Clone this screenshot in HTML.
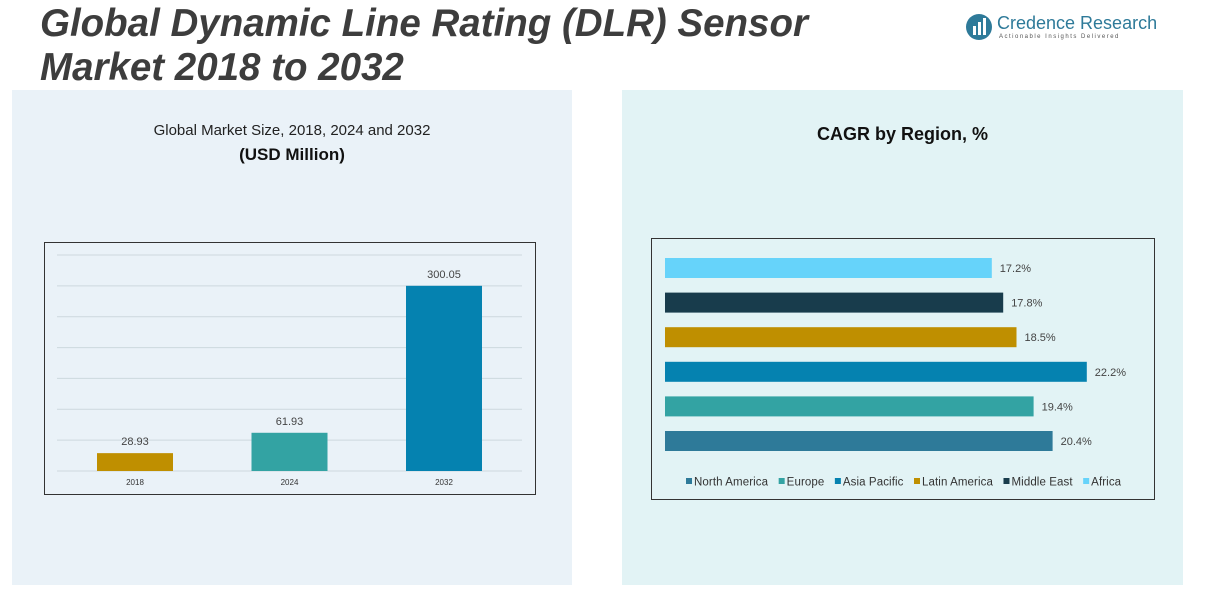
<!DOCTYPE html>
<html><head><meta charset="utf-8"><style>
body{margin:0;width:1207px;height:606px;background:#fff;font-family:"Liberation Sans",sans-serif;position:relative;overflow:hidden}
.abs{position:absolute}
</style></head><body>
<div class="abs" style="left:12px;top:90px;width:560px;height:495px;background:#eaf2f8"></div>
<div class="abs" style="left:622px;top:90px;width:561px;height:495px;background:#e2f3f5"></div>
<div class="abs" style="left:40px;top:2px;font-size:38.5px;font-weight:bold;font-style:italic;color:#3d3d3d;line-height:44px;letter-spacing:0px">Global Dynamic Line Rating (DLR) Sensor<br>Market 2018 to 2032</div>
<div class="abs" style="left:965px;top:12px;width:190px;height:32px">
<svg width="30" height="30" style="position:absolute;left:0;top:0"><circle cx="14" cy="15" r="13" fill="#2e7a99"/><rect x="8" y="14" width="3" height="9" fill="#fff"/><rect x="13" y="10" width="3" height="13" fill="#fff"/><rect x="18" y="6" width="3" height="17" fill="#fff"/></svg>
<div class="abs" style="left:32px;top:1px;font-size:18px;color:#2e7a99;white-space:nowrap">Credence Research</div>
<div class="abs" style="left:34px;top:22px;font-size:6px;letter-spacing:1.5px;color:#555;white-space:nowrap">Actionable Insights Delivered</div>
</div>
<div class="abs" style="left:12px;width:560px;top:122px;text-align:center;font-size:15px;color:#222">Global Market Size, 2018, 2024 and 2032</div>
<div class="abs" style="left:12px;width:560px;top:145px;text-align:center;font-size:17px;font-weight:bold;color:#111">(USD Million)</div>
<div class="abs" style="left:622px;width:561px;top:124px;text-align:center;font-size:18px;font-weight:bold;color:#111">CAGR by Region, %</div>
<svg class="abs" style="left:0;top:0" width="1207" height="606">
<rect x="44.5" y="242.5" width="491" height="252" fill="none" stroke="#333"/>
<rect x="651.5" y="238.5" width="503" height="261" fill="none" stroke="#333"/>
<g id="L"></g><g id="R"></g>
</svg>
<script>
const years=["2018","2024","2032"];
const sizes=[28.93,61.93,300.05];
const yearColors=["#bf8f00","#33a3a3","#0582b0"];
const gridTicks=[0,50,100,150,200,250,300,350];
const regions=["North America","Europe","Asia Pacific","Latin America","Middle East","Africa"];
const cagr=[20.4,19.4,22.2,18.5,17.8,17.2];
const regionColors=["#2e7a99","#33a3a3","#0582b0","#bf8f00","#183c4c","#66d3fa"];
const NS="http://www.w3.org/2000/svg";
function mk(t,a,p){const e=document.createElementNS(NS,t);for(const k in a)e.setAttribute(k,a[k]);p.appendChild(e);return e;}
const L=document.getElementById('L'),R=document.getElementById('R');
const y=v=>471-v*(216/350);
gridTicks.forEach(t=>{const l=mk('line',{x1:57,x2:522,y1:y(t),y2:y(t),stroke:'#cdd8de','stroke-width':1},L);

});
const xc=i=>135+i*154.5;
years.forEach((yr,i)=>{
const r=mk('rect',{x:xc(i)-38,y:y(sizes[i]),width:76,height:471-y(sizes[i]),fill:yearColors[i]},L);


const v=mk('text',{x:xc(i),y:y(sizes[i])-8,'text-anchor':'middle','font-size':11,fill:'#444'},L);v.textContent=sizes[i].toFixed(2);


const tx=mk('text',{x:xc(i),y:485,'text-anchor':'middle','font-size':8,fill:'#333'},L);tx.textContent=yr;


});
const xs=v=>665+v*19.0;
const rc=i=>441-i*34.6;
regions.forEach((rg,i)=>{
const r=mk('rect',{x:665,y:rc(i)-10,width:xs(cagr[i])-665,height:20,fill:regionColors[i]},R);


const t=mk('text',{x:xs(cagr[i])+8,y:rc(i)+4,'font-size':11,fill:'#444'},R);t.textContent=cagr[i].toFixed(1)+'%';


});
let lx=686;
regions.forEach((rg,i)=>{
const s=mk('rect',{x:lx,y:478,width:6,height:6,fill:regionColors[i]},R);


const t=mk('text',{x:lx+8,y:485.5,'font-size':11.5,fill:'#333','letter-spacing':0.1},R);t.textContent=rg;


lx+=8+t.getComputedTextLength()+10.5;
});
</script>
</body></html>
